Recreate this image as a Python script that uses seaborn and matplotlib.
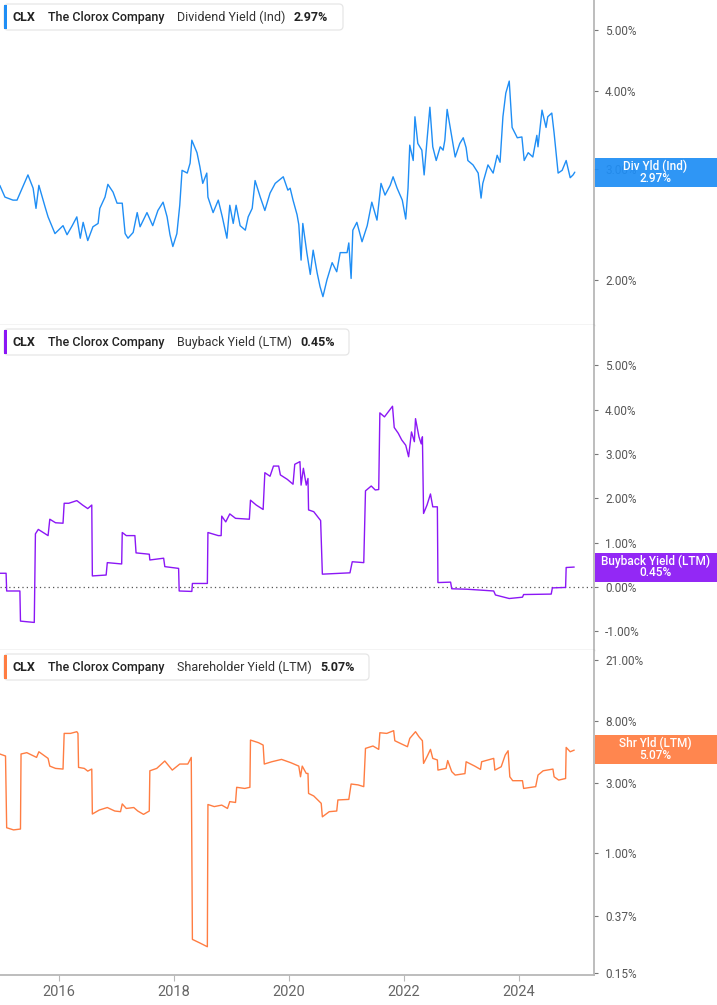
import matplotlib
matplotlib.use("Agg")
import matplotlib.pyplot as plt
import seaborn as sns
import pandas as pd
from matplotlib.transforms import Affine2D
from matplotlib.patches import FancyBboxPatch, Rectangle
from matplotlib.ticker import FixedLocator, FixedFormatter, NullLocator

sns.set_theme(style="white")
plt.rcParams["font.family"] = ["Roboto", "DejaVu Sans"]

# ---------------- data ----------------
div_year = [2014.97, 2015.06, 2015.20, 2015.27, 2015.36, 2015.46, 2015.55, 2015.60, 2015.65, 2015.76,
            2015.81, 2015.93, 2016.07, 2016.14, 2016.23, 2016.31, 2016.37, 2016.42, 2016.50, 2016.59,
            2016.68, 2016.71, 2016.80, 2016.85, 2016.94, 2017.01, 2017.10, 2017.15, 2017.20, 2017.29,
            2017.36, 2017.41, 2017.53, 2017.63, 2017.72, 2017.81, 2017.88, 2017.93, 2017.98, 2018.05,
            2018.10, 2018.14, 2018.23, 2018.28, 2018.31, 2018.40, 2018.45, 2018.50, 2018.57, 2018.59,
            2018.68, 2018.77, 2018.84, 2018.92, 2018.97, 2019.03, 2019.08, 2019.15, 2019.24, 2019.29,
            2019.36, 2019.41, 2019.50, 2019.58, 2019.67, 2019.76, 2019.90, 2019.98, 2020.02, 2020.07,
            2020.14, 2020.17, 2020.21, 2020.24, 2020.31, 2020.37, 2020.42, 2020.49, 2020.54, 2020.59,
            2020.66, 2020.75, 2020.83, 2020.89, 2021.01, 2021.04, 2021.08, 2021.11, 2021.18, 2021.27,
            2021.36, 2021.44, 2021.53, 2021.60, 2021.67, 2021.76, 2021.81, 2021.88, 2021.97, 2022.03,
            2022.07, 2022.10, 2022.16, 2022.19, 2022.24, 2022.31, 2022.35, 2022.40, 2022.45, 2022.50,
            2022.56, 2022.63, 2022.68, 2022.71, 2022.75, 2022.83, 2022.89, 2022.97, 2023.03, 2023.08,
            2023.11, 2023.20, 2023.29, 2023.34, 2023.37, 2023.46, 2023.55, 2023.62, 2023.67, 2023.72,
            2023.77, 2023.83, 2023.88, 2023.97, 2024.05, 2024.09, 2024.16, 2024.24, 2024.31, 2024.33,
            2024.40, 2024.47, 2024.50, 2024.57, 2024.61, 2024.68, 2024.75, 2024.82, 2024.89, 2024.94,
            2024.97]
div_val = [2.83, 2.71, 2.68, 2.68, 2.80, 2.94, 2.80, 2.60, 2.83, 2.61,
           2.52, 2.37, 2.44, 2.36, 2.44, 2.52, 2.33, 2.47, 2.31, 2.43,
           2.46, 2.60, 2.71, 2.84, 2.76, 2.65, 2.65, 2.37, 2.33, 2.38,
           2.56, 2.43, 2.56, 2.44, 2.58, 2.66, 2.52, 2.36, 2.26, 2.37,
           2.63, 2.99, 2.96, 3.07, 3.34, 3.19, 3.03, 2.85, 2.96, 2.71,
           2.56, 2.68, 2.52, 2.33, 2.63, 2.46, 2.63, 2.44, 2.40, 2.52,
           2.60, 2.88, 2.71, 2.58, 2.75, 2.85, 2.92, 2.78, 2.80, 2.68,
           2.54, 2.45, 2.15, 2.46, 2.21, 2.04, 2.23, 2.05, 1.95, 1.88,
           2.00, 2.13, 2.06, 2.21, 2.21, 2.29, 2.01, 2.40, 2.47, 2.30,
           2.44, 2.66, 2.49, 2.85, 2.73, 2.83, 2.92, 2.80, 2.68, 2.50,
           2.80, 3.28, 3.10, 3.64, 3.30, 3.22, 2.94, 3.34, 3.77, 3.26,
           3.10, 3.26, 3.22, 3.34, 3.74, 3.38, 3.14, 3.30, 3.37, 3.25,
           3.10, 3.05, 2.96, 2.70, 2.85, 3.05, 2.96, 3.16, 3.08, 3.64,
           3.97, 4.15, 3.50, 3.37, 3.38, 3.10, 3.19, 3.14, 3.40, 3.26,
           3.73, 3.50, 3.64, 3.69, 3.43, 2.96, 2.99, 3.10, 2.91, 2.94,
           2.97]

bb_year = [2014.97, 2015.08, 2015.09, 2015.32, 2015.33, 2015.57, 2015.59, 2015.64, 2015.81, 2015.84,
           2015.94, 2016.07, 2016.09, 2016.17, 2016.31, 2016.41, 2016.50, 2016.57, 2016.58, 2016.82,
           2016.84, 2017.09, 2017.10, 2017.17, 2017.32, 2017.34, 2017.57, 2017.58, 2017.82, 2017.84,
           2018.08, 2018.09, 2018.31, 2018.32, 2018.58, 2018.59, 2018.77, 2018.82, 2018.83, 2018.90,
           2018.97, 2019.07, 2019.31, 2019.33, 2019.43, 2019.55, 2019.58, 2019.67, 2019.73, 2019.82,
           2019.85, 2019.97, 2020.07, 2020.10, 2020.19, 2020.21, 2020.25, 2020.30, 2020.33, 2020.34,
           2020.43, 2020.55, 2020.58, 2021.06, 2021.10, 2021.30, 2021.33, 2021.43, 2021.50, 2021.56,
           2021.58, 2021.66, 2021.73, 2021.80, 2021.83, 2021.90, 2021.96, 2022.03, 2022.08, 2022.13,
           2022.18, 2022.20, 2022.26, 2022.30, 2022.32, 2022.34, 2022.40, 2022.46, 2022.50, 2022.58,
           2022.59, 2022.81, 2022.83, 2023.09, 2023.33, 2023.56, 2023.59, 2023.83, 2024.06, 2024.08,
           2024.56, 2024.58, 2024.81, 2024.82, 2024.96]
bb_val = [0.31, 0.31, -0.09, -0.09, -0.77, -0.80, 1.20, 1.30, 1.16, 1.53,
          1.45, 1.44, 1.89, 1.89, 1.95, 1.85, 1.77, 1.85, 0.25, 0.27,
          0.55, 0.52, 1.23, 1.16, 1.16, 0.77, 0.74, 0.61, 0.65, 0.46,
          0.42, -0.09, -0.10, 0.08, 0.08, 1.23, 1.16, 1.16, 1.60, 1.47,
          1.65, 1.55, 1.53, 1.96, 1.85, 1.75, 2.58, 2.50, 2.73, 2.73,
          2.53, 2.43, 2.32, 2.77, 2.83, 2.30, 2.68, 2.30, 2.45, 1.74,
          1.70, 1.50, 0.29, 0.32, 0.57, 0.55, 2.17, 2.28, 2.19, 2.20,
          3.93, 3.84, 3.96, 4.08, 3.60, 3.47, 3.32, 3.20, 2.94, 3.50,
          3.28, 3.80, 3.39, 3.23, 3.39, 1.66, 1.85, 2.10, 1.81, 1.81,
          0.10, 0.11, -0.04, -0.05, -0.07, -0.09, -0.18, -0.26, -0.23, -0.17,
          -0.16, -0.02, -0.01, 0.44, 0.45]

sh_year = [2014.97, 2015.07, 2015.09, 2015.21, 2015.33, 2015.34, 2015.44, 2015.61, 2015.65, 2015.81,
           2015.84, 2015.94, 2016.07, 2016.09, 2016.20, 2016.31, 2016.33, 2016.34, 2016.44, 2016.50,
           2016.57, 2016.58, 2016.70, 2016.84, 2016.97, 2017.07, 2017.10, 2017.17, 2017.30, 2017.37,
           2017.47, 2017.57, 2017.58, 2017.70, 2017.84, 2017.97, 2018.10, 2018.24, 2018.30, 2018.32,
           2018.44, 2018.58, 2018.59, 2018.70, 2018.83, 2018.93, 2018.97, 2019.07, 2019.09, 2019.23,
           2019.32, 2019.33, 2019.47, 2019.55, 2019.57, 2019.70, 2019.87, 2020.03, 2020.17, 2020.20,
           2020.23, 2020.30, 2020.33, 2020.34, 2020.43, 2020.56, 2020.58, 2020.70, 2020.83, 2020.85,
           2021.04, 2021.08, 2021.20, 2021.30, 2021.33, 2021.46, 2021.56, 2021.58, 2021.70, 2021.82,
           2021.84, 2021.96, 2022.06, 2022.10, 2022.20, 2022.26, 2022.32, 2022.34, 2022.40, 2022.46,
           2022.50, 2022.58, 2022.59, 2022.73, 2022.76, 2022.83, 2022.89, 2023.06, 2023.08, 2023.23,
           2023.33, 2023.35, 2023.46, 2023.56, 2023.58, 2023.69, 2023.76, 2023.81, 2023.84, 2023.89,
           2024.06, 2024.08, 2024.29, 2024.33, 2024.42, 2024.59, 2024.61, 2024.69, 2024.81, 2024.82,
           2024.89, 2024.96]
sh_val = [4.77, 4.62, 1.49, 1.44, 1.46, 4.77, 4.87, 4.52, 4.94, 4.45,
          3.94, 3.80, 3.76, 6.60, 6.60, 6.78, 6.60, 3.86, 3.80, 3.64,
          3.76, 1.85, 1.97, 2.05, 1.94, 1.92, 2.17, 2.02, 2.05, 1.94,
          1.84, 1.94, 3.66, 3.80, 4.27, 3.70, 4.07, 4.07, 4.52, 0.256,
          0.243, 0.228, 2.15, 2.08, 2.13, 2.02, 2.25, 2.22, 2.82, 2.77,
          2.82, 5.94, 5.70, 5.49, 4.07, 4.22, 4.38, 4.16, 3.94, 3.33,
          3.94, 3.51, 3.51, 2.56, 2.46, 2.19, 1.77, 1.92, 1.94, 2.31,
          2.33, 2.97, 2.93, 2.85, 5.21, 5.41, 5.13, 6.67, 6.60, 6.89,
          5.88, 5.58, 5.35, 6.10, 6.78, 6.26, 5.88, 4.11, 4.57, 5.13,
          4.45, 4.34, 3.70, 3.80, 4.30, 3.61, 3.42, 3.50, 4.22, 3.94,
          3.74, 4.22, 4.34, 4.45, 3.70, 3.90, 4.69, 5.02, 3.33, 3.13,
          3.13, 2.77, 2.85, 3.42, 3.66, 3.76, 3.33, 3.16, 3.24, 5.29,
          4.94, 5.07]

year_ticks = [2016, 2018, 2020, 2022, 2024]
div_ticks = [2.0, 3.0, 4.0, 5.0]
bb_ticks = [-1.0, 0.0, 1.0, 2.0, 3.0, 4.0, 5.0]
sh_ticks = [0.15, 0.37, 1.0, 3.0, 8.0, 21.0]

panels = [
    dict(year=div_year, val=div_val, color="#1f8ef5", scale="log", ylim=(1.694, 5.59), ticks=div_ticks,
         metric="Dividend Yield (Ind)", last="2.97%", tag="Div Yld (Ind)", top=0, val_x=294, box_w=339),
    dict(year=bb_year, val=bb_val, color="#8b17f5", scale="linear", ylim=(-1.422, 5.914), ticks=bb_ticks,
         metric="Buyback Yield (LTM)", last="0.45%", tag="Buyback Yield (LTM)", top=325, val_x=300, box_w=345),
    dict(year=sh_year, val=sh_val, color="#ff7d42", scale="log", ylim=(0.146, 24.6), ticks=sh_ticks,
         metric="Shareholder Yield (LTM)", last="5.07%", tag="Shr Yld (LTM)", top=650, val_x=320, box_w=365),
]

# ---------------- figure ----------------
W, H = 717, 1005
fig = plt.figure(figsize=(W / 100, H / 100), dpi=100)
fig.patch.set_facecolor("white")
PX = Affine2D().scale(1 / W, -1 / H).translate(0, 1) + fig.transFigure
XMIN, XMAX = 2014.974, 2025.304
AX_RIGHT = 594
PANEL_H = 325

axes = []
for i, p in enumerate(panels):
    top = p["top"]
    ax = fig.add_axes([0, 1 - (top + PANEL_H) / H, AX_RIGHT / W, PANEL_H / H])
    ax.set_facecolor("white")
    df = pd.DataFrame({"year": p["year"], "val": p["val"]})
    sns.lineplot(data=df, x="year", y="val", ax=ax, color=p["color"], linewidth=1.0,
                 estimator=None, sort=False, legend=False)
    if i == 1:
        ax.axhline(0, color="#555555", lw=0.9, ls=(0, (1, 2.5)), zorder=0)
    ax.set_yscale(p["scale"])
    ax.set_xlim(XMIN, XMAX)
    ax.set_ylim(*p["ylim"])
    ax.yaxis.set_major_locator(FixedLocator(p["ticks"]))
    ax.yaxis.set_major_formatter(FixedFormatter([f"{t:.2f}%" for t in p["ticks"]]))
    ax.yaxis.set_minor_locator(NullLocator())
    ax.yaxis.tick_right()
    ax.set_xlabel("")
    ax.set_ylabel("")
    for s in ["left", "top"]:
        ax.spines[s].set_visible(False)
    ax.spines["right"].set_color("#b8b8b8")
    ax.spines["right"].set_linewidth(1.3)
    ax.spines["bottom"].set_color("#c8c8c8")
    ax.spines["bottom"].set_linewidth(1.0)
    ax.tick_params(axis="y", which="major", length=3, width=0.8, color="#777777",
                   labelsize=8.5, labelcolor="#555555", pad=5, right=True, left=False)
    if i < 2:
        ax.set_xticks([])
    else:
        ax.spines["bottom"].set_color("#b8b8b8")
        ax.spines["bottom"].set_linewidth(1.3)
        ax.set_xticks(year_ticks)
        ax.set_xticklabels([str(y) for y in year_ticks])
        ax.tick_params(axis="x", which="major", length=4, width=0.8, color="#b8b8b8",
                       labelsize=10.5, labelcolor="#666666", pad=3, bottom=True)
        ax.xaxis.set_minor_locator(NullLocator())
    ax.grid(False)
    axes.append(ax)

    # title box
    bx = FancyBboxPatch((4, top + 4), p["box_w"], 26,
                        boxstyle="round,pad=0,rounding_size=4", transform=PX,
                        facecolor="white", edgecolor="#e6e6e6", linewidth=0.9, zorder=3)
    fig.add_artist(bx)
    fig.add_artist(Rectangle((4, top + 5), 3, 24, transform=PX,
                             facecolor=p["color"], edgecolor="none", zorder=4))
    ty = top + 17.5
    fig.text(13 / W, 1 - ty / H, "CLX", fontsize=9, fontweight="bold", color="#222222",
             va="center", ha="left", family="Roboto")
    fig.text(48 / W, 1 - ty / H, "The Clorox Company", fontsize=9, fontweight="medium",
             color="#222222", va="center", ha="left", family="Roboto")
    fig.text(177 / W, 1 - ty / H, p["metric"], fontsize=9, color="#333333",
             va="center", ha="left", family="Roboto")
    fig.text(p["val_x"] / W, 1 - ty / H, p["last"], fontsize=9, fontweight="bold",
             color="#222222", va="center", ha="left", family="Roboto")

# right-side value tags
tag_tops = [158, 553, 735]
for p, tt in zip(panels, tag_tops):
    fig.add_artist(Rectangle((AX_RIGHT + 1, tt), W - AX_RIGHT - 1, 29, transform=PX,
                             facecolor=p["color"], edgecolor="none", alpha=0.93, zorder=5))
    cx = (AX_RIGHT + W) / 2
    fig.text(cx / W, 1 - (tt + 8.5) / H, p["tag"], fontsize=8.5, color="white",
             ha="center", va="center", fontweight="medium", zorder=6)
    fig.text(cx / W, 1 - (tt + 20) / H, p["last"], fontsize=8.5, color="white",
             ha="center", va="center", fontweight="medium", zorder=6)

fig.savefig("out.png", dpi=100, facecolor="white")
